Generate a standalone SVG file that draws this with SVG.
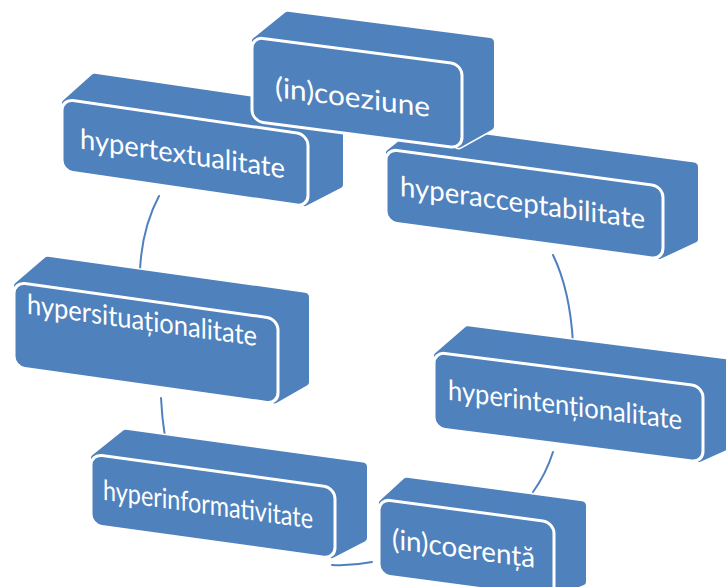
<svg xmlns="http://www.w3.org/2000/svg" width="726" height="587" viewBox="0 0 726 587">
<style>
.bg{fill:#ffffff}
.body{fill:#4F81BD;stroke:#4F81BD;stroke-width:8;stroke-linejoin:round}
.edge{fill:none;stroke:#ffffff;stroke-width:11;stroke-linejoin:round}
.front{fill:#4F81BD;stroke:#ffffff;stroke-width:3}
.lbl{font-family:Lato,"Open Sans","Liberation Sans",sans-serif;font-size:28px;fill:#ffffff}
.arc{fill:none;stroke:#4F81BD;stroke-width:2;stroke-linecap:round}
</style>
<rect class="bg" x="0" y="0" width="726" height="587"/>
<g id="connectors">
<path class="arc" d="M159,196 Q142,228 140,270"/>
<path class="arc" d="M161,398 Q162,418 165,437"/>
<path class="arc" d="M332,565 Q352,566 372,562"/>
<path class="arc" d="M553,452 Q546,474 533,492"/>
<path class="arc" d="M553,255 Q570,290 573,343"/>
</g>
<g id="n-hypertextualitate" transform="translate(62,99) skewY(8.25)">
<path class="edge" d="M4,4 L33,-26 L277,-26 L277,45 L242,68 Z"/>
<path class="body" d="M4,4 L33,-26 L277,-26 L277,45 L242,68 Z"/>
<rect class="front" x="0" y="0" width="246" height="72" rx="11"/>
<text class="lbl" x="18" y="47" textLength="205" lengthAdjust="spacingAndGlyphs">hypertextualitate</text>
</g>
<g id="n-hyperacceptabilitate" transform="translate(386,149) skewY(7.69)">
<path class="edge" d="M4,4 L34,-24 L308,-24 L308,48 L273,69 Z"/>
<path class="body" d="M4,4 L34,-24 L308,-24 L308,48 L273,69 Z"/>
<rect class="front" x="0" y="0" width="277" height="73" rx="11"/>
<text class="lbl" x="14" y="45" textLength="245" lengthAdjust="spacingAndGlyphs">hyperacceptabilitate</text>
</g>
<g id="n-incoeziune" transform="translate(252,37) skewY(7.41)">
<path class="edge" d="M4,4 L36,-26 L238,-26 L238,58 L206,80 Z"/>
<path class="body" d="M4,4 L36,-26 L238,-26 L238,58 L206,80 Z"/>
<rect class="front" x="0" y="0" width="210" height="84" rx="11"/>
<text class="lbl" x="23" y="57" textLength="155" lengthAdjust="spacingAndGlyphs">(in)coeziune</text>
</g>
<g id="n-hypersituationalitate" transform="translate(14,282) skewY(7.97)">
<path class="edge" d="M4,4 L34,-26 L291,-26 L291,59 L260,81 Z"/>
<path class="body" d="M4,4 L34,-26 L291,-26 L291,59 L260,81 Z"/>
<rect class="front" x="0" y="0" width="264" height="85" rx="11"/>
<text class="lbl" x="13" y="30" textLength="230" lengthAdjust="spacingAndGlyphs">hypersituaționalitate</text>
</g>
<g id="n-hyperintentionalitate" transform="translate(434,352) skewY(7.29)">
<path class="edge" d="M4,4 L34,-26 L303,-26 L303,50 L265,72 Z"/>
<path class="body" d="M4,4 L34,-26 L303,-26 L303,50 L265,72 Z"/>
<rect class="front" x="0" y="0" width="269" height="76" rx="11"/>
<text class="lbl" x="14" y="46" textLength="234" lengthAdjust="spacingAndGlyphs">hyperintenționalitate</text>
</g>
<g id="n-hyperinformativitate" transform="translate(91,454) skewY(7.86)">
<path class="edge" d="M4,4 L35,-25 L272,-25 L272,46 L240,67 Z"/>
<path class="body" d="M4,4 L35,-25 L272,-25 L272,46 L240,67 Z"/>
<rect class="front" x="0" y="0" width="244" height="71" rx="11"/>
<text class="lbl" x="12" y="44" textLength="210" lengthAdjust="spacingAndGlyphs">hyperinformativitate</text>
</g>
<g id="n-incoerenta" transform="translate(379,499) skewY(7.63)">
<path class="edge" d="M4,4 L28,-21 L203,-21 L203,55 L171,72 Z"/>
<path class="body" d="M4,4 L28,-21 L203,-21 L203,55 L171,72 Z"/>
<rect class="front" x="0" y="0" width="175" height="76" rx="11"/>
<text class="lbl" x="13" y="48" textLength="143" lengthAdjust="spacingAndGlyphs">(in)coerență</text>
</g>
</svg>
